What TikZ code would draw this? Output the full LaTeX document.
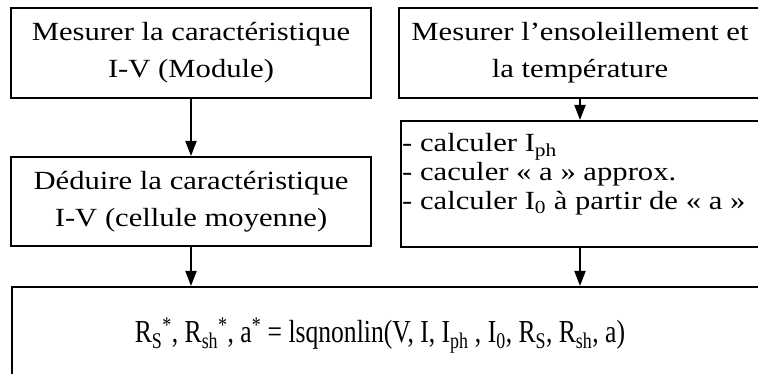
\documentclass[tikz,border=0pt]{standalone}
\usepackage{fontspec}
\setmainfont{Liberation Serif}
\newfontfamily\boxfont{Liberation Serif}[FakeStretch=1.17]
\newfontfamily\formfont{Liberation Serif}[FakeStretch=0.8]
\usetikzlibrary{arrows.meta}
\begin{document}
\begin{tikzpicture}[x=1pt,y=-1pt,
  box/.style={draw, line width=2pt, inner sep=0pt},
  btext/.style={font=\boxfont\fontsize{26.2}{37}\selectfont, align=center},
  ltext/.style={font=\boxfont\fontsize{26.2}{29}\selectfont, anchor=base west, inner sep=0pt},
  ftext/.style={font=\formfont\fontsize{32}{36}\selectfont, anchor=base, inner sep=0pt},
  arr/.style={-{Triangle[length=15pt,width=11pt]}, line width=1.8pt}]
\useasboundingbox (0,0) rectangle (758,374);
\fill[white] (0,0) rectangle (758,374);
\begin{scope}
\clip (0,0) rectangle (758,374);
\node[box, btext, minimum width=360pt, minimum height=90pt] (mod) at (191,53) {Mesurer la caractéristique\\I-V (Module)};
\node[box, btext, minimum width=362pt, minimum height=90pt] (ens) at (580,53) {Mesurer l’ensoleillement et\\la température};
\node[box, btext, minimum width=360pt, minimum height=89pt] (cel) at (191,201.5) {Déduire la caractéristique\\I-V (cellule moyenne)};
\node[box, minimum width=359pt, minimum height=126pt] (calc) at (580.5,184) {};
\node[ltext] (c1) at (402,152) {- calculer I\textsubscript{ph}};
\node[ltext] (c2) at (402,181) {- caculer « a » approx.};
\node[ltext] (c3) at (402,210) {- calculer I\textsubscript{0} à partir de « a »};
\node[box, minimum width=760pt, minimum height=88.6pt, anchor=north west] (res) at (11,286) {};
\node[ftext] (f) at (380,342) {R\textsubscript{S}\textsuperscript{*}, R\textsubscript{sh}\textsuperscript{*}, a\textsuperscript{*} = lsqnonlin(V, I, I\textsubscript{ph} , I\textsubscript{0}, R\textsubscript{S}, R\textsubscript{sh}, a)};
\draw[arr] (mod.south) -- (cel.north);
\draw[arr] (ens.south) -- (ens.south |- calc.north);
\draw[arr] (cel.south) -- (cel.south |- res.north);
\draw[arr] (ens.south |- calc.south) -- (ens.south |- res.north);
\end{scope}
\end{tikzpicture}
\end{document}
